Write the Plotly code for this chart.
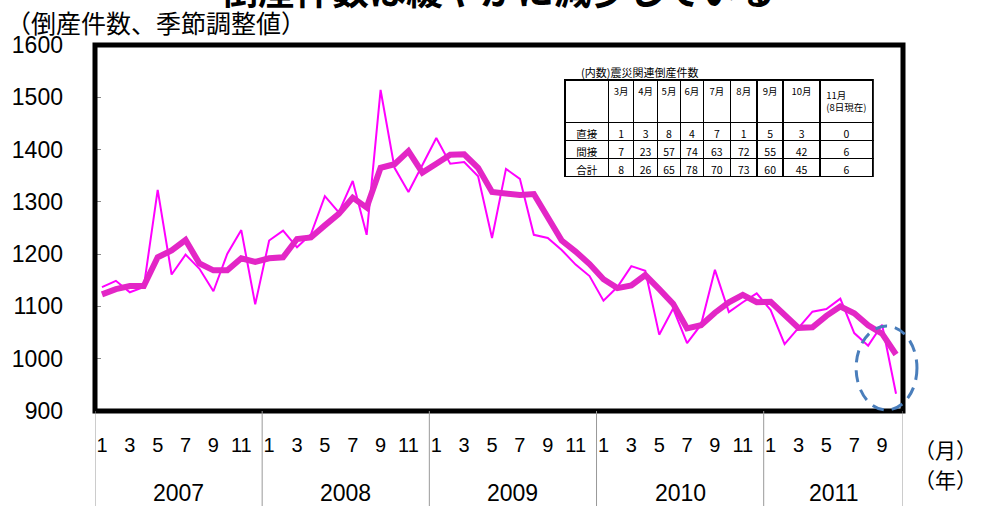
import plotly.graph_objects as go

# monthly bankruptcies (seasonally adjusted), Jan 2007 - Oct 2011
actual = [1137, 1149, 1127, 1137, 1323, 1161, 1199, 1172, 1129, 1201, 1246, 1104,
          1226, 1245, 1213, 1238, 1311, 1280, 1340, 1237, 1514, 1365, 1319, 1370,
          1422, 1373, 1376, 1349, 1231, 1363, 1344, 1237, 1231, 1208, 1180, 1158,
          1111, 1137, 1177, 1168, 1046, 1096, 1030, 1065, 1170, 1089, 1108, 1125,
          1093, 1028, 1059, 1090, 1095, 1115, 1049, 1025, 1065, 933]
moving_avg = [1123, 1133, 1139, 1139, 1194, 1207, 1227, 1182, 1169, 1169, 1192, 1185,
              1192, 1194, 1229, 1232, 1255, 1277, 1308, 1289, 1365, 1372, 1397, 1356,
              1373, 1390, 1391, 1365, 1319, 1315, 1313, 1315, 1270, 1226, 1205, 1181,
              1152, 1135, 1140, 1160, 1133, 1105, 1058, 1064, 1088, 1108, 1122, 1108,
              1109, 1082, 1059, 1060, 1082, 1100, 1087, 1064, 1048, 1008]
years = [2007, 2008, 2009, 2010, 2011]
month_ticks = ["1", "3", "5", "7", "9", "11"]

# (内数) 震災関連倒産件数
table_cols = ["3月", "4月", "5月", "6月", "7月", "8月", "9月", "10月", "11月<br>(8日現在)"]
direct = [1, 3, 8, 4, 7, 1, 5, 3, 0]
indirect = [7, 23, 57, 74, 63, 72, 55, 42, 6]
total = [8, 26, 65, 78, 70, 73, 60, 45, 6]
row_names = ["直接", "間接", "合計"]

n = len(actual)
idx = list(range(n))

# plot box in pixels
L, R, T, B = 93, 903, 45, 411
W, H = 981, 506
pw, ph = R - L, B - T
JP = "Noto Sans CJK JP"


def px_x(x):
    return (x - L) / pw


def px_y(y):
    return (B - y) / ph


fig = go.Figure()
fig.add_trace(go.Scatter(x=idx, y=actual, mode="lines",
                         line=dict(color="#FF00FF", width=2), showlegend=False))
fig.add_trace(go.Scatter(x=idx, y=moving_avg, mode="lines",
                         line=dict(color="#E326C6", width=6), showlegend=False))

fig.add_trace(go.Table(
    domain=dict(x=[px_x(564), px_x(873)], y=[px_y(185), px_y(80)]),
    columnwidth=[44, 25, 24, 23, 23, 27, 27, 26, 37, 53],
    header=dict(values=[""] + table_cols, height=34, align="center",
                line=dict(color="black", width=1.5), fill=dict(color="white"),
                font=dict(family=JP, size=9.5, color="black")),
    cells=dict(values=[row_names] + [[d, i, t] for d, i, t in zip(direct, indirect, total)],
               height=18, align="center",
               line=dict(color="black", width=1.5), fill=dict(color="white"),
               font=dict(family=JP, size=10.5, color="black")),
))

tickvals = list(range(0, n, 2))
ticktext = [month_ticks[(i % 12) // 2] for i in tickvals]

fig.update_layout(
    width=W, height=H,
    margin=dict(l=L, r=W - R, t=T, b=H - B),
    paper_bgcolor="white", plot_bgcolor="white",
    font=dict(family="Liberation Sans, Arial", color="black"),
    xaxis=dict(range=[-0.5, n - 0.5], tickvals=tickvals, ticktext=ticktext,
               showgrid=False, zeroline=False, ticks="", showline=False,
               tickfont=dict(size=20), ticklabelstandoff=20),
    yaxis=dict(range=[900, 1600], dtick=100, showgrid=False, zeroline=False,
               ticks="inside", ticklen=6, tickcolor="#888", showline=False,
               tickfont=dict(size=23), ticklabelstandoff=31),
)

shapes = [dict(type="rect", xref="paper", yref="paper", x0=0, x1=1, y0=0, y1=1,
               line=dict(color="black", width=5))]
# year separators below the axis
for k in range(len(years) + 1):
    xb = min(12 * k, n) - 0.5
    shapes.append(dict(type="line", xref="x", yref="paper", x0=xb, x1=xb,
                       y0=0, y1=px_y(H), line=dict(color="#999", width=1)))
# dashed ellipse on the latest month
shapes.append(dict(type="circle", xref="paper", yref="paper",
                   x0=px_x(856), x1=px_x(917), y0=px_y(410), y1=px_y(326),
                   line=dict(color="#4A7EBB", width=3, dash="12px,8px")))
fig.update_layout(shapes=shapes)


def note(x, y, text, size, family=None, xanchor="center"):
    f = dict(size=size)
    if family:
        f["family"] = family
    return dict(x=x, y=y, xref="paper", yref="paper", text=text, showarrow=False,
                xanchor=xanchor, yanchor="middle", font=f)


ann = []
for k, yr in enumerate(years):
    start = 12 * k
    end = min(12 * k + 11, n - 1)
    ann.append(dict(x=(start + end) / 2, y=px_y(493), xref="x", yref="paper",
                    yanchor="middle", text=str(yr), showarrow=False, font=dict(size=23)))
ann.append(note(px_x(2), px_y(22), "（倒産件数、季節調整値）", 25, JP, "left"))
ann.append(note(px_x(497), px_y(-11), "<b>倒産件数は緩やかに減少している</b>", 37, JP))
ann.append(note(px_x(946), px_y(449), "（月）", 21, JP))
ann.append(note(px_x(946), px_y(479), "（年）", 21, JP))
ann.append(note(px_x(578), px_y(72), "(内数)震災関連倒産件数", 11, JP, "left"))
fig.update_layout(annotations=ann)

fig.write_html("out.html", config={"displayModeBar": False},
               post_script="document.body.style.margin='0';")
